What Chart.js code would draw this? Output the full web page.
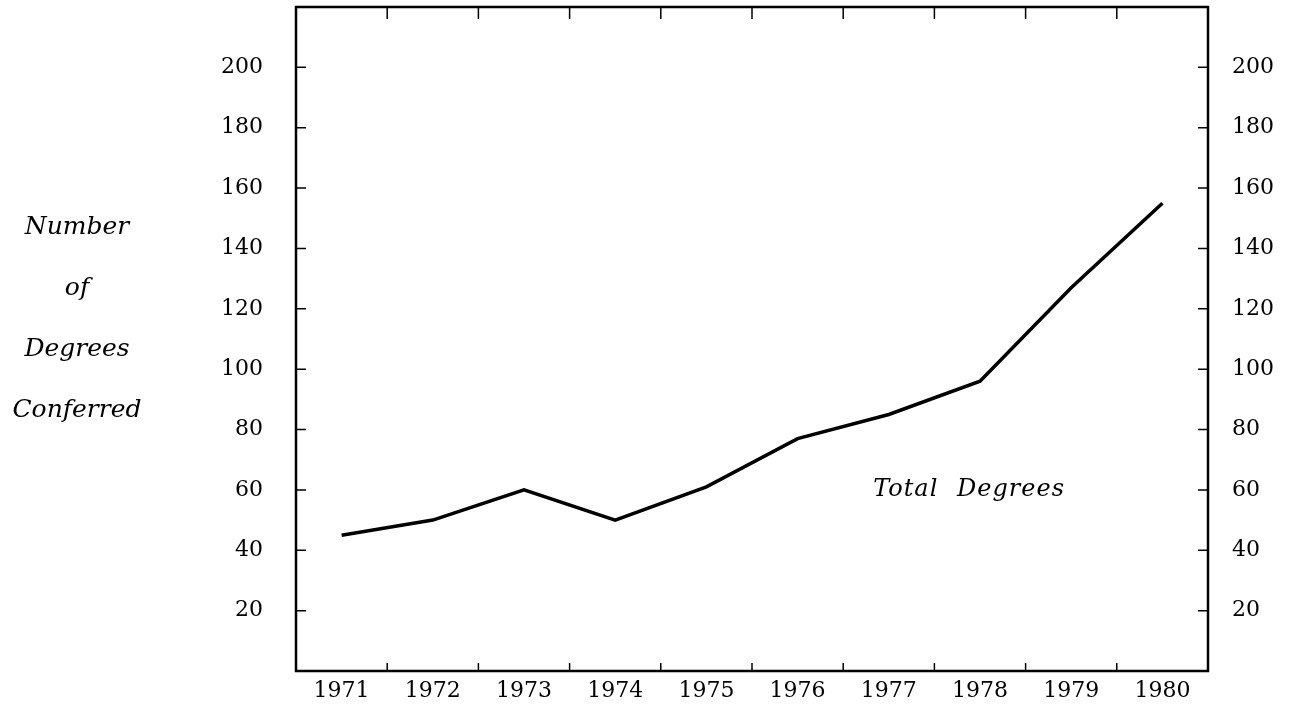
<!DOCTYPE html>
<html>
<head>
<meta charset="utf-8">
<script src="https://cdn.jsdelivr.net/npm/chart.js@4.4.1/dist/chart.umd.min.js"></script>
<style>
  html, body { margin: 0; padding: 0; background: #fff; }
  #wrap { width: 1310px; height: 704px; }
</style>
</head>
<body>
<div id="wrap"><canvas id="graphDeg"></canvas></div>
<script>
// dati
const years = ['1971', '1972', '1973', '1974', '1975', '1976', '1977', '1978', '1979', '1980'];
const totalDegrees = [45, 50, 60, 50, 61, 77, 85, 96, 127, 155];
const yTicks = [20, 40, 60, 80, 100, 120, 140, 160, 180, 200];
const yTitleLines = ['Number', 'of', 'Degrees', 'Conferred'];
const seriesLabel = 'Total Degrees';

const tickFont = { family: 'DejaVu Serif', size: 22 };

// cornice, tacche interne, titolo asse y ed etichetta della serie
const frame = {
	id: 'frame',
	afterDatasetsDraw(chart) {
		const ctx = chart.ctx;
		const a = chart.chartArea;
		const xs = chart.scales.x;
		const ys = chart.scales.y;
		ctx.save();
		ctx.strokeStyle = '#000';
		ctx.lineWidth = 2.5;
		ctx.strokeRect(a.left, a.top, a.right - a.left, a.bottom - a.top);

		ctx.lineWidth = 1.5;
		ctx.beginPath();
		for (let i = 1; i < years.length; i++) {
			const px = (xs.getPixelForValue(i - 1) + xs.getPixelForValue(i)) / 2;
			ctx.moveTo(px, a.bottom);
			ctx.lineTo(px, a.bottom - 8);
			ctx.moveTo(px, a.top);
			ctx.lineTo(px, a.top + 12);
		}
		yTicks.forEach(v => {
			const py = ys.getPixelForValue(v);
			ctx.moveTo(a.left, py);
			ctx.lineTo(a.left + 10, py);
			ctx.moveTo(a.right, py);
			ctx.lineTo(a.right - 10, py);
		});
		ctx.stroke();

		ctx.fillStyle = '#000';
		ctx.textAlign = 'center';
		ctx.textBaseline = 'middle';
		ctx.font = 'italic 25px "DejaVu Serif"';
		yTitleLines.forEach((t, i) => {
			ctx.fillText(t, a.left - 219, 227 + i * 61);
		});

		ctx.font = 'italic 24px "DejaVu Serif"';
		ctx.letterSpacing = '1px';
		ctx.wordSpacing = '10px';
		ctx.fillText(seriesLabel, xs.getPixelForValue(6.88), ys.getPixelForValue(60));
		ctx.restore();
	}
};

// niente margini extra attorno agli assi
function noPad(s) {
	s.paddingTop = 0;
	s.paddingBottom = 0;
	s.paddingLeft = 0;
	s.paddingRight = 0;
}

let config = {
	type: 'line',
	data: {
		labels: years,
		datasets: [{
			label: seriesLabel,
			data: totalDegrees,
			borderColor: '#000',
			borderWidth: 3.5,
			pointRadius: 0,
			tension: 0,
			fill: false
		}]
	},
	options: {
		responsive: true,
		maintainAspectRatio: false,
		animation: false,
		layout: { padding: { top: 7, left: 0, right: 0, bottom: 0 } },
		plugins: {
			legend: { display: false },
			tooltip: { enabled: false }
		},
		scales: {
			x: {
				type: 'category',
				offset: true,
				grid: { display: false, drawTicks: false },
				border: { display: false },
				ticks: { color: '#000', font: tickFont, padding: 7, maxRotation: 0 },
				afterFit: s => { s.height = 33; noPad(s); }
			},
			y: {
				position: 'left',
				min: 0,
				max: 220,
				afterBuildTicks: s => { s.ticks = yTicks.map(v => ({ value: v })); },
				grid: { display: false, drawTicks: false },
				border: { display: false },
				ticks: { color: '#000', font: tickFont, padding: 33 },
				afterFit: s => { s.width = 296; noPad(s); }
			},
			y2: {
				position: 'right',
				min: 0,
				max: 220,
				afterBuildTicks: s => { s.ticks = yTicks.map(v => ({ value: v })); },
				grid: { display: false, drawTicks: false },
				border: { display: false },
				ticks: { color: '#000', font: tickFont, padding: 24 },
				afterFit: s => { s.width = 102; noPad(s); }
			}
		}
	},
	plugins: [frame]
};

var ctxdeg = document.getElementById('graphDeg').getContext('2d');
window.myLine = new Chart(ctxdeg, config);
</script>
</body>
</html>
